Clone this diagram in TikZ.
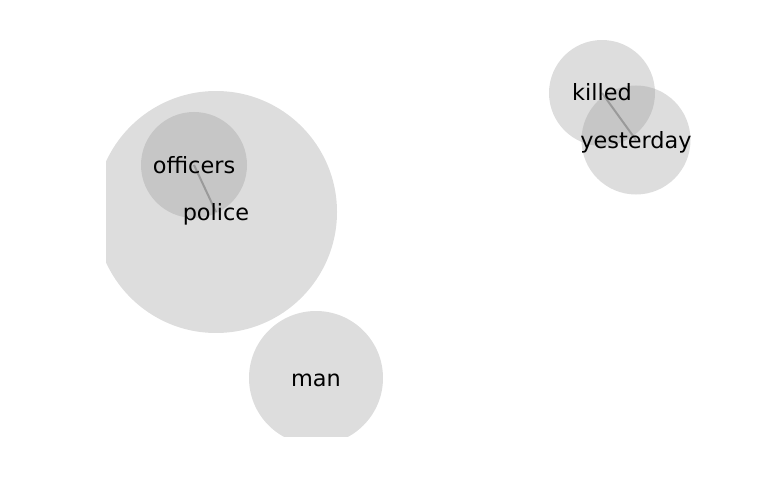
\documentclass[tikz,border=0pt]{standalone}
\usepackage{fontspec}
\setmainfont{DejaVu Sans}
\newlength{\du}
\setlength{\du}{1pt}
\definecolor{bubblecolor}{rgb}{0.584, 0.584, 0.584}
\definecolor{linkcolor}{rgb}{0.400, 0.400, 0.400}
\tikzset{
  bubble/.style={circle, draw=none, fill=bubblecolor, fill opacity=0.32, inner sep=0pt, minimum size=#1},
  link/.style={draw=linkcolor, draw opacity=0.45, line width=2\du},
  wordlabel/.style={inner sep=0pt, text height=16\du, text depth=0pt, font=\fontsize{22.4}{26}\selectfont}
}
\begin{document}
\begin{tikzpicture}[yscale=-1]
\useasboundingbox (0\du,0\du) rectangle (768\du,500\du);
% plot area
\begin{scope}
\clip (106\du,0\du) rectangle (768\du,436\du);
\node[bubble=242\du] (police) at (216\du,212\du) {};
\node[bubble=106\du] (officers) at (194\du,165\du) {};
\node[bubble=134\du] (man) at (316\du,378\du) {};
\node[bubble=106\du] (killed) at (602\du,93\du) {};
\node[bubble=109\du] (yesterday) at (636\du,140\du) {};
% links
\draw[link] (officers.center)--(police.center);
\draw[link] (killed.center)--(yesterday.center);
\end{scope}
% words
\node[wordlabel] (police label) at (police) {police};
\node[wordlabel] (officers label) at (officers) {officers};
\node[wordlabel] (man label) at (man) {man};
\node[wordlabel] (killed label) at (killed) {killed};
\node[wordlabel] (yesterday label) at (yesterday) {yesterday};
\end{tikzpicture}
\end{document}
